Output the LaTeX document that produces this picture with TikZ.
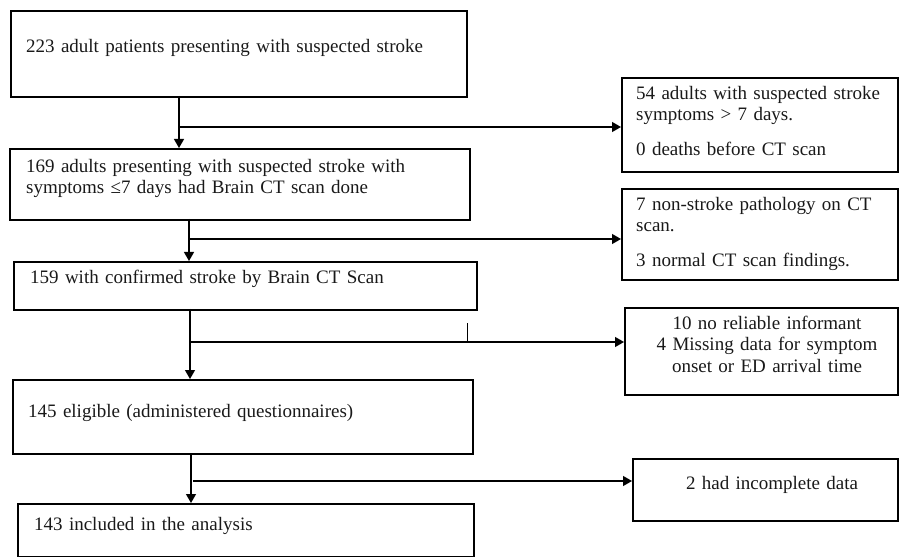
\documentclass[tikz,border=0pt]{standalone}
\usepackage{fontspec}
\setmainfont{Liberation Serif}
\usetikzlibrary{arrows.meta}
\begin{document}
\begin{tikzpicture}[x=1bp,y=-1bp,
  box/.style={draw=black, line width=1.8bp, inner sep=0pt, anchor=north west},
  txt/.style={inner sep=0pt, anchor=base west, align=left, text width=#1,
    font=\fontsize{19bp}{21bp}\selectfont, text=black!90},
  ctxt/.style={inner sep=0pt, anchor=base, align=center, text width=#1,
    font=\fontsize{19bp}{21bp}\selectfont, text=black!90},
  flow/.style={line width=1.3bp, -{Triangle[length=9bp,width=10bp]}},
  tick/.style={line width=0.6bp}
]
\useasboundingbox (0,0) rectangle (899,557);

% main column boxes
\node[box, minimum width=456bp, minimum height=86bp] (b1) at (10,10) {};
\node[box, minimum width=460bp, minimum height=71bp] (b2) at (9,148) {};
\node[box, minimum width=463bp, minimum height=48bp] (b3) at (13,261) {};
\node[box, minimum width=460bp, minimum height=74bp] (b4) at (12,379) {};
\node[box, minimum width=456bp, minimum height=53bp] (b5) at (17,503) {};

% side boxes
\node[box, minimum width=276bp, minimum height=94bp] (r1) at (621,77) {};
\node[box, minimum width=276bp, minimum height=91bp] (r2) at (621,188) {};
\node[box, minimum width=273bp, minimum height=87bp] (r3) at (624,307) {};
\node[box, minimum width=265bp, minimum height=62bp] (r4) at (632,458) {};

% texts
\node[txt=430bp] (t1) at (26,53) {223 adult patients presenting with suspected stroke};
\node[txt=430bp] (t2) at (26,173) {169 adults presenting with suspected stroke with\\symptoms ≤7 days had Brain CT scan done};
\node[txt=430bp] (t3) at (30,284) {159 with confirmed stroke by Brain CT Scan};
\node[txt=430bp] (t4) at (28,417) {145 eligible (administered questionnaires)};
\node[txt=430bp] (t5) at (34,530) {143 included in the analysis};

\node[txt=255bp] (s1) at (636,100) {54 adults with suspected stroke\\symptoms > 7 days.\\[14bp]0 deaths before CT scan};
\node[txt=255bp] (s2) at (636,211) {7 non-stroke pathology on CT\\scan.\\[14bp]3 normal CT scan findings.};
\node[ctxt=260bp] (s3) at (767,330) {10 no reliable informant\\4 Missing data for symptom\\onset or ED arrival time};
\node[ctxt=250bp] (s4) at (772,489) {2 had incomplete data};

% vertical flow
\coordinate (v1) at (179,96);
\coordinate (v2) at (189,219);
\coordinate (v3) at (190,309);
\coordinate (v4) at (191,453);
\draw[flow] (v1) -- (v1 |- b2.north);
\draw[flow] (v2) -- (v2 |- b3.north);
\draw[flow] (v3) -- (v3 |- b4.north);
\draw[flow] (v4) -- (v4 |- b5.north);

% exclusion branches
\coordinate (h1) at (179,127);
\coordinate (h2) at (189,239);
\coordinate (h3) at (190,342);
\coordinate (h4) at (193,481);
\draw[flow] (h1) -- (h1 -| r1.west);
\draw[flow] (h2) -- (h2 -| r2.west);
\draw[flow] (h3) -- (h3 -| r3.west);
\draw[flow] (h4) -- (h4 -| r4.west);

% small tick on third branch
\coordinate (k3) at (467,342);
\draw[tick] (k3) -- ++(0,-19);
\end{tikzpicture}
\end{document}
